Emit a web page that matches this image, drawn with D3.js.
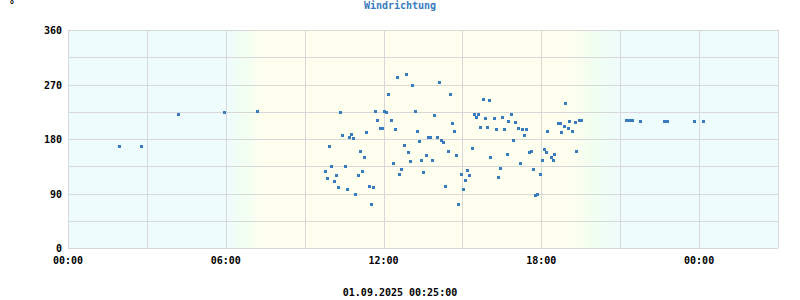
<!DOCTYPE html>
<html>
<head>
<meta charset="utf-8">
<script src="https://cdn.jsdelivr.net/npm/d3@7"></script>
<style>
	body { margin: 0; background: #fff; }
	svg text { font-family: "DejaVu Sans Mono", monospace; font-size: 10px; font-weight: bold; }
</style>
</head>
<body>
<div id="chart"></div>
<script>
var title = "Windrichtung";
var unit = "°";
var stamp = "01.09.2025 00:25:00";
var yTicks = [0, 90, 180, 270, 360];
var xTickLabels = ["00:00", "06:00", "12:00", "18:00", "00:00"];

// hh:mm since 31.08.2025 00:00 (values past 24:00 belong to the next day)
var times = [
	"01:57", "02:47", "04:11", "05:56", "07:11",
	"09:46", "09:51", "09:55", "10:00", "10:07", "10:11", "10:16", "10:20", "10:25", "10:32",
	"10:36", "10:41", "10:45", "10:50", "10:55", "11:01", "11:06", "11:11", "11:15", "11:20",
	"11:26", "11:31", "11:36", "11:40", "11:45", "11:52", "11:56", "12:01", "12:05", "12:10",
	"12:17", "12:21", "12:26", "12:30", "12:35", "12:39", "12:46", "12:51", "12:55", "13:00",
	"13:04", "13:11", "13:16", "13:20", "13:25", "13:30", "13:36", "13:41", "13:45", "13:50",
	"13:55", "14:01", "14:06", "14:11", "14:15", "14:20", "14:26", "14:31", "14:36", "14:40",
	"14:45", "14:49", "14:56", "15:01", "15:05", "15:10", "15:14", "15:21", "15:26", "15:30",
	"15:35", "15:39", "15:46", "15:51", "15:55", "16:00", "16:04", "16:11", "16:16", "16:20",
	"16:25", "16:30", "16:34", "16:41", "16:45", "16:50", "16:55", "16:59", "17:06", "17:11",
	"17:15", "17:20", "17:24", "17:31", "17:36", "17:40", "17:45", "17:49", "17:56", "18:01",
	"18:05", "18:10", "18:14", "18:21", "18:26", "18:30", "18:37", "18:42", "18:44", "18:51",
	"18:55", "19:00", "19:04", "19:09", "19:16", "19:20", "19:25", "19:30",
	"21:14", "21:19", "21:26", "21:44", "22:39", "22:46", "23:49", "24:10"
];
var directions = [
	168, 168, 222, 224, 226,
	127, 115, 168, 135, 110, 120, 100, 224, 186, 135,
	97, 184, 188, 181, 90, 120, 161, 127, 150, 191,
	102, 72, 100, 226, 212, 198, 198, 226, 224, 255,
	212, 140, 196, 283, 122, 130, 170, 288, 158, 143,
	270, 227, 193, 176, 146, 125, 153, 184, 184, 146,
	219, 183, 274, 179, 175, 102, 160, 255, 206, 193,
	153, 72, 123, 97, 113, 128, 120, 165, 222, 216,
	222, 199, 246, 214, 199, 244, 150, 214, 196, 118,
	132, 216, 196, 156, 209, 222, 179, 208, 198, 140,
	196, 186, 196, 158, 160, 130, 87, 89, 123, 145,
	163, 158, 194, 150, 146, 156, 206, 206, 191, 201,
	239, 198, 209, 193, 208, 160, 211, 211,
	211, 211, 211, 209, 209, 209, 209, 209
];
// day/night shading: dawn, sunrise, sunset, dusk
var twilight = ["06:00", "07:24", "19:04", "21:00"];

var margins = {left: 68, right: 22, top: 30, bottom: 52};
var width = 800, height = 300;
var base = new Date(2025, 7, 31, 0, 0);

function toDate(s){
	var p = s.split(":");
	return new Date(base.getTime() + (+p[0] * 60 + +p[1]) * 60000);
}

var x = d3.scaleTime()
	.domain([base, toDate("27:00")])
	.range([margins.left, width - margins.right]);
var y = d3.scaleLinear()
	.domain([0, 360])
	.range([height - margins.bottom, margins.top]);

var svg = d3.select("#chart").append("svg")
	.attr("width", width)
	.attr("height", height);

var grad = svg.append("defs").append("linearGradient")
	.attr("id", "daylight")
	.attr("gradientUnits", "userSpaceOnUse")
	.attr("x1", x.range()[0]).attr("x2", x.range()[1])
	.attr("y1", 0).attr("y2", 0);

var span = x.range()[1] - x.range()[0];
function offset(s){ return (x(toDate(s)) - x.range()[0]) / span; }
var stops = [
	[0, "#effcfd"],
	[offset(twilight[0]), "#effcfd"],
	[(offset(twilight[0]) + offset(twilight[1])) / 2, "#f0fff0"],
	[offset(twilight[1]), "#fffff0"],
	[offset(twilight[2]), "#fffff0"],
	[(offset(twilight[2]) + offset(twilight[3])) / 2, "#f0fff0"],
	[offset(twilight[3]), "#effcfd"],
	[1, "#effcfd"]
];
grad.selectAll("stop")
	.data(stops)
	.enter()
	.append("stop")
	.attr("offset", function(d){return d[0]})
	.attr("stop-color", function(d){return d[1]});

svg.append("rect")
	.attr("x", x.range()[0])
	.attr("y", y.range()[1])
	.attr("width", span)
	.attr("height", y.range()[0] - y.range()[1])
	.attr("fill", "url(#daylight)");

// grid
svg.append("g")
	.selectAll("line")
	.data(d3.range(0, 361, 45))
	.enter()
	.append("line")
	.attr("x1", x.range()[0]).attr("x2", x.range()[1])
	.attr("y1", function(d){return Math.round(y(d)) + 0.5})
	.attr("y2", function(d){return Math.round(y(d)) + 0.5})
	.attr("stroke", "#d8d8d8");

svg.append("g")
	.selectAll("line")
	.data(x.ticks(d3.timeHour.every(3)))
	.enter()
	.append("line")
	.attr("x1", function(d){return Math.round(x(d)) + 0.5})
	.attr("x2", function(d){return Math.round(x(d)) + 0.5})
	.attr("y1", y.range()[1]).attr("y2", y.range()[0])
	.attr("stroke", "#d8d8d8");

svg.append("line")
	.attr("x1", x.range()[1] + 0.5).attr("x2", x.range()[1] + 0.5)
	.attr("y1", y.range()[1]).attr("y2", y.range()[0])
	.attr("stroke", "#d8d8d8");

// axes labels
svg.append("g")
	.selectAll("text")
	.data(yTicks)
	.enter()
	.append("text")
	.attr("x", margins.left - 6)
	.attr("y", function(d){return y(d) + 4})
	.attr("text-anchor", "end")
	.attr("fill", "#000")
	.text(function(d){return d});

svg.append("g")
	.selectAll("text")
	.data(x.ticks(d3.timeHour.every(6)))
	.enter()
	.append("text")
	.attr("x", function(d){return x(d)})
	.attr("y", y.range()[0] + 16)
	.attr("text-anchor", "middle")
	.attr("fill", "#000")
	.text(function(d, i){return xTickLabels[i]});

// points
svg.append("g")
	.selectAll("rect")
	.data(times)
	.enter()
	.append("rect")
	.attr("x", function(d){return Math.round(x(toDate(d))) - 1})
	.attr("y", function(d, i){return Math.round(y(directions[i])) - 1})
	.attr("width", 3)
	.attr("height", 3)
	.attr("fill", "#3a7bbf");

svg.append("text")
	.attr("x", width / 2)
	.attr("y", 9)
	.attr("text-anchor", "middle")
	.attr("fill", "#3a7bbf")
	.text(title);

svg.append("text")
	.attr("x", 9)
	.attr("y", 8)
	.attr("fill", "#000")
	.text(unit);

svg.append("text")
	.attr("x", width / 2)
	.attr("y", 296)
	.attr("text-anchor", "middle")
	.attr("fill", "#000")
	.text(stamp);
</script>
</body>
</html>
